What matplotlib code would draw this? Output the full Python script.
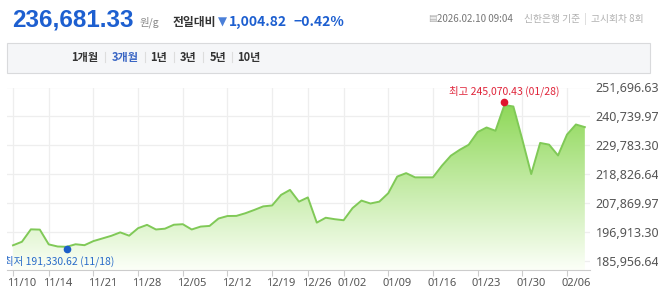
import matplotlib
matplotlib.use("Agg")
import matplotlib.pyplot as plt
import matplotlib.transforms as mtransforms
from matplotlib.patches import Rectangle
import numpy as np

plt.rcParams['font.family'] = ['Noto Sans CJK KR', 'DejaVu Sans']

# 거래일 (2025.11.10 ~ 2026.02.10)
dates = ['11/10', '11/11', '11/12', '11/13', '11/14', '11/17', '11/18', '11/19', '11/20', '11/21',
         '11/24', '11/25', '11/26', '11/27', '11/28', '12/01', '12/02', '12/03', '12/04', '12/05',
         '12/08', '12/09', '12/10', '12/11', '12/12', '12/15', '12/16', '12/17', '12/18', '12/19',
         '12/22', '12/23', '12/24', '12/26', '12/29', '12/30', '12/31', '01/02', '01/05', '01/06',
         '01/07', '01/08', '01/09', '01/12', '01/13', '01/14', '01/15', '01/16', '01/19', '01/20',
         '01/21', '01/22', '01/23', '01/26', '01/27', '01/28', '01/29', '01/30', '02/02', '02/03',
         '02/04', '02/05', '02/06', '02/09', '02/10']

# 원/g
prices = [191900, 193250, 197950, 197850, 192250, 191450, 191330.62, 192300, 191950, 193500,
          194500, 195500, 196800, 195550, 198400, 199650, 197900, 198200, 199700, 199900,
          197900, 199000, 199250, 202050, 203000, 203050, 204050, 205300, 206650, 207000,
          211000, 212900, 208450, 210050, 200500, 202350, 201800, 201400, 206000, 208850,
          207750, 208450, 211650, 217950, 219250, 217650, 217650, 217650, 222050, 225850,
          228100, 230000, 234800, 236550, 235300, 245070.43, 244500, 232000, 218900, 230700,
          230050, 225950, 233850, 237686.15, 236681.33]

tick_dates = ['11/10', '11/14', '11/21', '11/28', '12/05', '12/12', '12/19', '12/26',
              '01/02', '01/09', '01/16', '01/23', '01/30', '02/06']
y_ticks = [185956.64, 196913.30, 207869.97, 218826.64, 229783.30, 240739.97, 251696.63]

W, H = 658, 301
fig = plt.figure(figsize=(W / 100, H / 100), dpi=100)
fig.patch.set_facecolor('white')


def fx(px):
    return px / W


def fy(py):
    return 1 - py / H


# ---- 상단 헤더 ----
fig.text(fx(12), fy(26), '236,681.33', fontsize=17.5, fontweight='bold', color='#1d5fd0',
         family=['Liberation Sans', 'DejaVu Sans'], va='baseline')
fig.text(fx(139), fy(26), '원/g', fontsize=7.5, color='#888888', va='baseline')
fig.text(fx(173), fy(26), '전일대비', fontsize=8.5, fontweight='bold', color='#333333', va='baseline')
fig.text(fx(218), fy(26), '▼', fontsize=8.5, color='#4a7fd8', va='baseline',
         family=['DejaVu Sans'])
fig.text(fx(229), fy(26), '1,004.82', fontsize=10, fontweight='bold', color='#1d5fd0', va='baseline')
fig.text(fx(293), fy(26), '−0.42%', fontsize=10, fontweight='bold', color='#1d5fd0', va='baseline')

fig.text(fx(428), fy(19), '▤', fontsize=6.5, color='#aaaaaa', va='center', family=['DejaVu Sans'])
fig.text(fx(437), fy(19), '2026.02.10 09:04', fontsize=7, color='#777777', va='center')
fig.text(fx(524), fy(19), '신한은행 기준', fontsize=7, color='#b0b0b0', va='center')
fig.text(fx(584), fy(19), '|', fontsize=7, color='#cccccc', va='center')
fig.text(fx(591), fy(19), '고시회차 8회', fontsize=7, color='#b0b0b0', va='center')

# ---- 기간 버튼 바 ----
fig.patches.append(Rectangle((fx(7), fy(73)), fx(643), (73 - 43) / H, transform=fig.transFigure,
                             facecolor='#f5f6f8', edgecolor='#d9dadc', lw=0.8))
buttons = ['1개월', '3개월', '1년', '3년', '5년', '10년']
button_x = [85, 125, 159, 188, 218, 249]
for name, bx in zip(buttons, button_x):
    fig.text(fx(bx), fy(57), name, fontsize=8, fontweight='bold', ha='center', va='center',
             color='#3a66c4' if name == '3개월' else '#333333')
for sx in [105, 145, 174, 203, 232]:
    fig.lines.append(plt.Line2D([fx(sx), fx(sx)], [fy(52), fy(62)], transform=fig.transFigure,
                                color='#dddddd', lw=0.8))

# ---- 차트 ----
x_left, x_right, y_top, y_bot = 7, 590, 87.5, 270
ax = fig.add_axes([fx(x_left), fy(y_bot), (x_right - x_left) / W, (y_bot - y_top) / H])
px_per_day = 8.935
val_per_px = 378.9
ax.set_xlim((x_left - 13) / px_per_day, (x_right - 13) / px_per_day)
ax.set_ylim(y_ticks[0] - (y_bot - 261) * val_per_px, y_ticks[-1])

x = np.arange(len(prices))
ymin, ymax = ax.get_ylim()

# 그라데이션 영역
fill = ax.fill_between(x, prices, ymin, facecolor='none', edgecolor='none')
grad = np.linspace(0, 1, 256).reshape(-1, 1)
top_c = np.array([142, 216, 88]) / 255
bot_c = np.array([252, 255, 248]) / 255
img = top_c * (1 - grad[..., None]) + bot_c * grad[..., None]
img = img.reshape(256, 1, 3)
im = ax.imshow(img, extent=[x[0], x[-1], ymin, max(prices)], aspect='auto', zorder=1,
               origin='upper')
im.set_clip_path(fill.get_paths()[0], transform=ax.transData)
ax.plot(x, prices, color='#80c957', lw=1.4, zorder=3)

# x축 눈금: 라벨은 눈금보다 약간 오른쪽
tick_idx = [dates.index(d) for d in tick_dates]
ax.set_xticks(tick_idx)
ax.set_xticklabels([])
ax.tick_params(axis='x', length=4, color='#cccccc')
offset = mtransforms.ScaledTranslation(9 / 100, -13 / 100, fig.dpi_scale_trans)
lab_tr = ax.get_xaxis_transform() + offset
for ti, td in zip(tick_idx, tick_dates):
    ax.text(ti, 0, td, transform=lab_tr, fontsize=8, color='#555555', ha='center', va='center',
            family=['Noto Sans', 'DejaVu Sans'], clip_on=False)

ax.yaxis.tick_right()
ax.set_yticks(y_ticks)
ax.set_yticklabels([f'{v:,.2f}' for v in y_ticks], fontsize=9, color='#555555',
                   family=['Noto Sans', 'DejaVu Sans'])
ax.tick_params(axis='y', length=0, pad=4)

ax.grid(True, color='#eeeeee', lw=0.9, zorder=0)
ax.set_axisbelow(True)
for side in ['top', 'right', 'left']:
    ax.spines[side].set_visible(False)
ax.spines['bottom'].set_color('#cccccc')
ax.set_facecolor('white')

# 최고 / 최저
i_max = int(np.argmax(prices))
i_min = int(np.argmin(prices))
ax.plot(i_max, prices[i_max] + 2.5 * val_per_px, 'o', color='#e0142d', ms=4.5, zorder=5,
        clip_on=False)
ax.text(i_max, prices[i_max] + 14 * val_per_px, f'최고 {prices[i_max]:,.2f} ({dates[i_max]})',
        color='#e0243a', fontsize=7.5, ha='center', va='center', zorder=6, clip_on=False)
ax.plot(i_min, prices[i_min] - 2.5 * val_per_px, 'o', color='#1d5fc8', ms=4.5, zorder=5)
ax.text(-1.0, prices[i_min] - 14.5 * val_per_px, f'최저 {prices[i_min]:,.2f} ({dates[i_min]})',
        color='#2a6cc9', fontsize=7.5, ha='left', va='center', zorder=6, clip_on=True)

fig.savefig('out.png', dpi=100)
